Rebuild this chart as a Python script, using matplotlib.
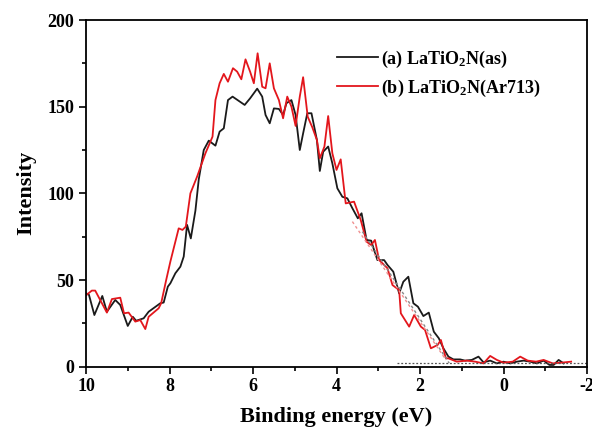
import numpy as np
import matplotlib.pyplot as plt
from matplotlib.ticker import MultipleLocator

plt.rcParams['font.family'] = ['Liberation Serif', 'DejaVu Serif']
plt.rcParams['font.weight'] = 'bold'
plt.rcParams['axes.unicode_minus'] = False
plt.rcParams['mathtext.default'] = 'regular'

# (a) LaTiO2N(as)
e_as = [10.0, 9.93, 9.8, 9.61, 9.5, 9.3, 9.18, 9.0, 8.88, 8.8, 8.62, 8.5, 8.22, 8.14,
        8.04, 7.98, 7.86, 7.74, 7.66, 7.58, 7.49, 7.38, 7.3, 7.18, 7.06, 6.9, 6.8, 6.7,
        6.6, 6.49, 6.2, 6.07, 5.9, 5.78, 5.7, 5.6, 5.5, 5.38, 5.28, 5.2, 5.08, 4.98,
        4.88, 4.8, 4.7, 4.6, 4.47, 4.4, 4.32, 4.2, 4.1, 3.98, 3.86, 3.74, 3.62, 3.49,
        3.4, 3.28, 3.17, 3.1, 3.02, 2.86, 2.78, 2.64, 2.5, 2.4, 2.28, 2.16, 2.05, 1.92,
        1.79, 1.67, 1.55, 1.44, 1.32, 1.2, 1.04, 0.92, 0.76, 0.6, 0.48, 0.32, 0.16, 0.0,
        -0.16, -0.32, -0.48, -0.64, -0.8, -0.96, -1.1, -1.2, -1.32, -1.44]
i_as = [42.3, 41.5, 29.8, 40.8, 31.7, 38.5, 35.6, 23.5, 28.8, 26.5, 27.9, 31.7, 36.6, 37,
        46.2, 48.1, 53.9, 57.7, 63.5, 81.8, 74, 90, 108, 125, 130.4, 127.5, 135.6, 137.5,
        153.8, 155.8, 151, 154.8, 160.4, 155.8, 145.2, 140.4, 149, 148.7, 145.2, 152, 153.8, 145.2,
        125, 134.6, 146.2, 146.2, 130.8, 112.9, 124, 127, 117.3, 102.9, 98, 97.1, 91.4, 85.6,
        88.5, 73.1, 72.7, 67.3, 61.5, 61.5, 58.7, 54.8, 42.3, 49, 51.9, 36.6, 34.6, 29.2,
        31.2, 20.2, 16.4, 10.6, 5.8, 4.2, 4.2, 3.5, 3.9, 5.8, 2.5, 3.5, 1.9, 2.9,
        1.9, 2.9, 3.5, 2.9, 1.9, 3.5, 1.0, 1.0, 3.9, 1.9]

# (b) LaTiO2N(Ar713)
e_ar = [10.0, 9.86, 9.78, 9.5, 9.38, 9.18, 9.09, 8.98, 8.82, 8.7, 8.58, 8.5, 8.26, 8.2,
        8.08, 7.98, 7.9, 7.78, 7.69, 7.61, 7.5, 7.34, 7.14, 6.97, 6.9, 6.8, 6.7, 6.6,
        6.48, 6.38, 6.28, 6.18, 6.07, 5.98, 5.89, 5.78, 5.7, 5.6, 5.5, 5.38, 5.28, 5.18,
        5.08, 4.98, 4.88, 4.8, 4.69, 4.58, 4.47, 4.4, 4.29, 4.2, 4.1, 4.0, 3.9, 3.78,
        3.58, 3.42, 3.28, 3.17, 3.08, 2.98, 2.78, 2.66, 2.5, 2.46, 2.26, 2.14, 1.98, 1.88,
        1.74, 1.58, 1.5, 1.38, 1.32, 1.12, 0.88, 0.68, 0.48, 0.32, 0.16, 0.0, -0.22, -0.4,
        -0.58, -0.78, -0.96, -1.18, -1.38, -1.62]
i_ar = [41.2, 43.9, 43.9, 31.2, 39, 39.8, 30.8, 31.2, 26, 26.9, 21.7, 28.8, 33.7, 36.6,
        50, 60.6, 68.3, 79.8, 78.9, 80.8, 100, 109.6, 123.1, 132.7, 153.8, 163.5, 168.9, 164.4,
        172.2, 170.2, 165.8, 177.3, 170.2, 163.5, 180.8, 161.5, 160.6, 175, 160.6, 153.8, 143.3, 155.8,
        150, 138.9, 155.8, 167, 144.2, 138.1, 130.8, 120.2, 127, 144.6, 123.1, 113.5, 119.6, 94.2,
        95.2, 84.6, 72.1, 70.2, 73.1, 61.5, 56.8, 47.1, 44.2, 30.8, 23.1, 29.8, 23.1, 21.2,
        10.6, 12.5, 15.4, 4.8, 4.8, 2.9, 3.5, 2.9, 1.9, 6.2, 3.9, 2.3, 2.9, 5.8,
        3.5, 2.9, 3.9, 1.9, 2.3, 2.9]

# linear onset fits and baseline
fit_as_e = [3.38, 1.3]
fit_as_i = [77.9, 2.0]
fit_ar_e = [3.62, 1.38]
fit_ar_i = [83.7, 3.9]
base_e = [2.55, -2.0]
base_i = [1.9, 1.9]

fig = plt.figure(figsize=(5.92, 4.32), dpi=100)
ax = fig.add_axes([0.1453, 0.1512, 0.8463, 0.8025])

ax.plot(e_as, i_as, color='#1a1a1a', lw=1.3, label='(a) LaTiO$_2$N(as)')
ax.plot(e_ar, i_ar, color='#e3161c', lw=1.3, label='(b) LaTiO$_2$N(Ar713)')
ax.plot(fit_as_e, fit_as_i, color='#888888', lw=1.0, ls=(0, (2, 2)))
ax.plot(fit_ar_e, fit_ar_i, color='#f09090', lw=1.0, ls=(0, (2, 2)))
ax.plot(base_e, base_i, color='#555555', lw=0.9, ls=(0, (1.5, 1.5)))

ax.set_xlim(10, -2)
ax.set_ylim(0, 200)
ax.xaxis.set_major_locator(MultipleLocator(2))
ax.xaxis.set_minor_locator(MultipleLocator(1))
ax.yaxis.set_major_locator(MultipleLocator(50))
ax.yaxis.set_minor_locator(MultipleLocator(25))
ax.tick_params(which='both', direction='out', top=False, right=False, width=1.2)
ax.tick_params(which='major', length=5, labelsize=13)
ax.tick_params(which='minor', length=3)
for lab in ax.get_xticklabels() + ax.get_yticklabels():
    lab.set_fontweight('bold')
for sp in ax.spines.values():
    sp.set_linewidth(1.3)

ax.set_xlabel('Binding energy (eV)', fontsize=16, fontweight='bold', labelpad=8)
ax.set_ylabel('Intensity', fontsize=16, fontweight='bold', labelpad=8)

leg = ax.legend(loc='upper left', bbox_to_anchor=(0.468, 0.965), frameon=False,
                handlelength=2.3, handletextpad=0.15, labelspacing=0.45,
                prop={'family': 'Liberation Serif', 'weight': 'bold', 'size': 13})

fig.savefig('out.png', dpi=100)
